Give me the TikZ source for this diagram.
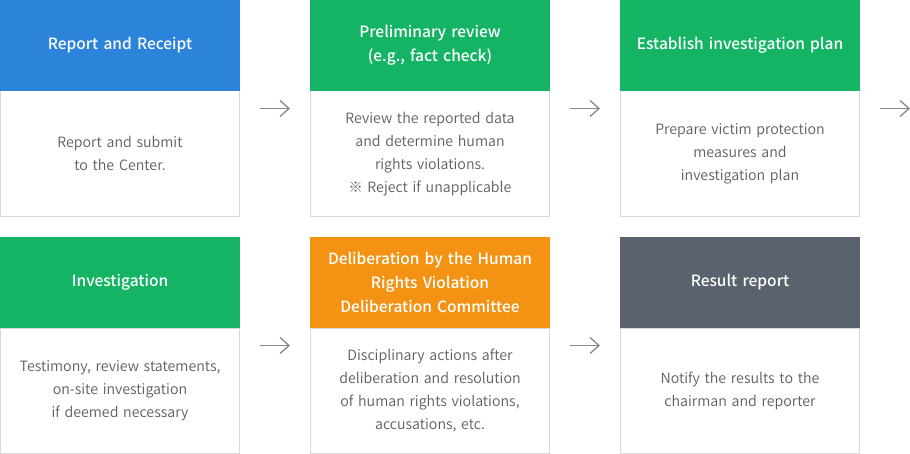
\documentclass[tikz,border=0pt]{standalone}
\usepackage{fontspec}
\setmainfont{Noto Sans CJK KR}[BoldFont={Noto Sans CJK KR Medium}]
\newfontfamily\bodyfont{Noto Sans CJK KR DemiLight}
\usetikzlibrary{arrows.meta}
\definecolor{cblue}{HTML}{2B83DA}
\definecolor{cgreen}{HTML}{14B464}
\definecolor{corange}{HTML}{F39213}
\definecolor{cgray}{HTML}{5A636D}
\definecolor{bordc}{HTML}{D9D9D9}
\definecolor{txtc}{HTML}{5E5E5E}
\definecolor{arrc}{HTML}{888888}
\begin{document}
\begin{tikzpicture}[x=1pt,y=-1pt,
 head/.style={minimum width=240pt,minimum height=91pt,inner sep=0pt,outer sep=0pt,text width=236pt,align=center,text=white,font=\fontsize{15.5}{24}\selectfont\bfseries,anchor=north west},
 body/.style={draw=bordc,line width=1pt,minimum width=239pt,minimum height=125.5pt,inner sep=0pt,outer sep=0pt,text width=230pt,align=center,text=txtc,font=\bodyfont\fontsize{14.2}{23}\selectfont,anchor=north west},
 cardbox/.style={minimum width=240pt,minimum height=217pt,inner sep=0pt,outer sep=0pt},
 flow/.style={draw=arrc,line width=1.3pt,-{Straight Barb[length=9pt,width=16pt]},shorten <=20pt,shorten >=20pt}]
\useasboundingbox (0,0) rectangle (910,454);
\fill[white] (0,0) rectangle (910,454);
% cards (invisible frames)
\node[cardbox] (c1) at (120,108.5) {};
\node[cardbox] (c2) at (430,108.5) {};
\node[cardbox] (c3) at (740,108.5) {};
\node[cardbox] (c4) at (120,345.5) {};
\node[cardbox] (c5) at (430,345.5) {};
\node[cardbox] (c6) at (740,345.5) {};
% row 1
\node[body] (b1) at (0.5,91) {Report and submit\\to the Center.};
\node[head,fill=cblue] (h1) at (0,0) {Report and Receipt};
\node[body] (b2) at (310.5,91) {Review the reported data\\and determine human\\rights violations.\\※ Reject if unapplicable};
\node[head,fill=cgreen] (h2) at (310,0) {Preliminary review\\(e.g., fact check)};
\node[body] (b3) at (620.5,91) {Prepare victim protection\\measures and\\investigation plan};
\node[head,fill=cgreen] (h3) at (620,0) {Establish investigation plan};
% row 2
\node[body] (b4) at (0.5,328) {Testimony, review statements,\\on-site investigation\\if deemed necessary};
\node[head,fill=cgreen] (h4) at (0,237) {Investigation};
\node[body] (b5) at (310.5,328) {Disciplinary actions after\\deliberation and resolution\\of human rights violations,\\accusations, etc.};
\node[head,fill=corange] (h5) at (310,237) {Deliberation by the Human\\Rights Violation\\Deliberation Committee};
\node[body] (b6) at (620.5,328) {Notify the results to the\\chairman and reporter};
\node[head,fill=cgray] (h6) at (620,237) {Result report};
% arrows
\coordinate (next) at (930,108.5);
\draw[flow] (c1.east) -- (c2.west);
\draw[flow] (c2.east) -- (c3.west);
\draw[flow] (c3.east) -- (next);
\draw[flow] (c4.east) -- (c5.west);
\draw[flow] (c5.east) -- (c6.west);
\end{tikzpicture}
\end{document}
